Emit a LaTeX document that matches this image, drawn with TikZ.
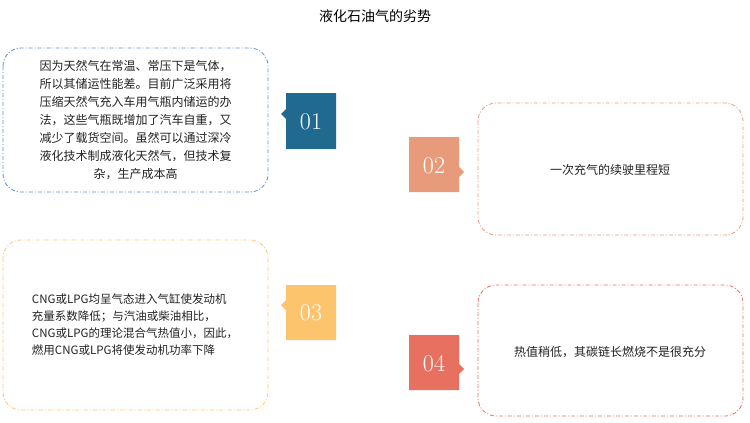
\documentclass[tikz,border=0pt]{standalone}
\usepackage{fontspec}
\newfontfamily\cjk{Noto Sans CJK SC}
\definecolor{cA}{HTML}{1F6A8E}
\definecolor{cB}{HTML}{E89B7A}
\definecolor{cC}{HTML}{FDC46E}
\definecolor{cD}{HTML}{E87060}
\definecolor{bA}{HTML}{5B8FD6}
\definecolor{tx}{HTML}{222222}
\begin{document}
\begin{tikzpicture}[x=1pt,y=-1pt,
  box/.style={dash pattern=on 4pt off 2pt on 1pt off 2pt,line width=0.8pt,rounded corners=18pt},
  tagnum/.style={font=\fontsize{24}{24}\selectfont\rmfamily,text=white},
  txt/.style={font=\cjk\fontsize{12}{18}\selectfont,text=tx,align=center}]
\useasboundingbox (0,0) rectangle (750,423);
\node[font=\cjk\fontsize{14}{14}\selectfont,text=black] (title) at (375,16) {液化石油气的劣势};
% box 1
\draw[box,bA] (3,48) rectangle (268,192);
\node[txt] (t1) at (135.5,120) {因为天然气在常温、常压下是气体，\\所以其储运性能差。目前广泛采用将\\压缩天然气充入车用气瓶内储运的办\\法，这些气瓶既增加了汽车自重，又\\减少了载货空间。虽然可以通过深冷\\液化技术制成液化天然气，但技术复\\杂，生产成本高};
\fill[cA] (286,93) -- (336,93) -- (336,149) -- (286,149) -- (286,119) -- (281,114) -- (286,109) -- cycle;
\node[tagnum] (n1) at (311,122) {01};
% box 2
\draw[box,cB] (478,103) rectangle (743,235);
\node[txt] (t2) at (610,170) {一次充气的续驶里程短};
\fill[cB] (409,137) -- (459,137) -- (459,167) -- (464,172) -- (459,177) -- (459,192) -- (409,192) -- cycle;
\node[tagnum] (n2) at (434,166) {02};
% box 3
\draw[box,cC] (3,240) rectangle (268,410);
\node[txt,align=left,font=\cjk\fontsize{11.5}{17}\selectfont] (t3) at (135,325) {CNG或LPG均呈气态进入气缸使发动机\\充量系数降低；与汽油或柴油相比，\\CNG或LPG的理论混合气热值小，因此，\\燃用CNG或LPG将使发动机功率下降};
\fill[cC] (286,285) -- (336,285) -- (336,340) -- (286,340) -- (286,310) -- (281,305) -- (286,300) -- cycle;
\node[tagnum] (n3) at (311,313) {03};
% box 4
\draw[box,cD] (478,285) rectangle (743,416);
\node[txt] (t4) at (610,352) {热值稍低，其碳链长燃烧不是很充分};
\fill[cD] (409,335) -- (459,335) -- (459,364) -- (464,369) -- (459,374) -- (459,390) -- (409,390) -- cycle;
\node[tagnum] (n4) at (434,364) {04};
\end{tikzpicture}
\end{document}
